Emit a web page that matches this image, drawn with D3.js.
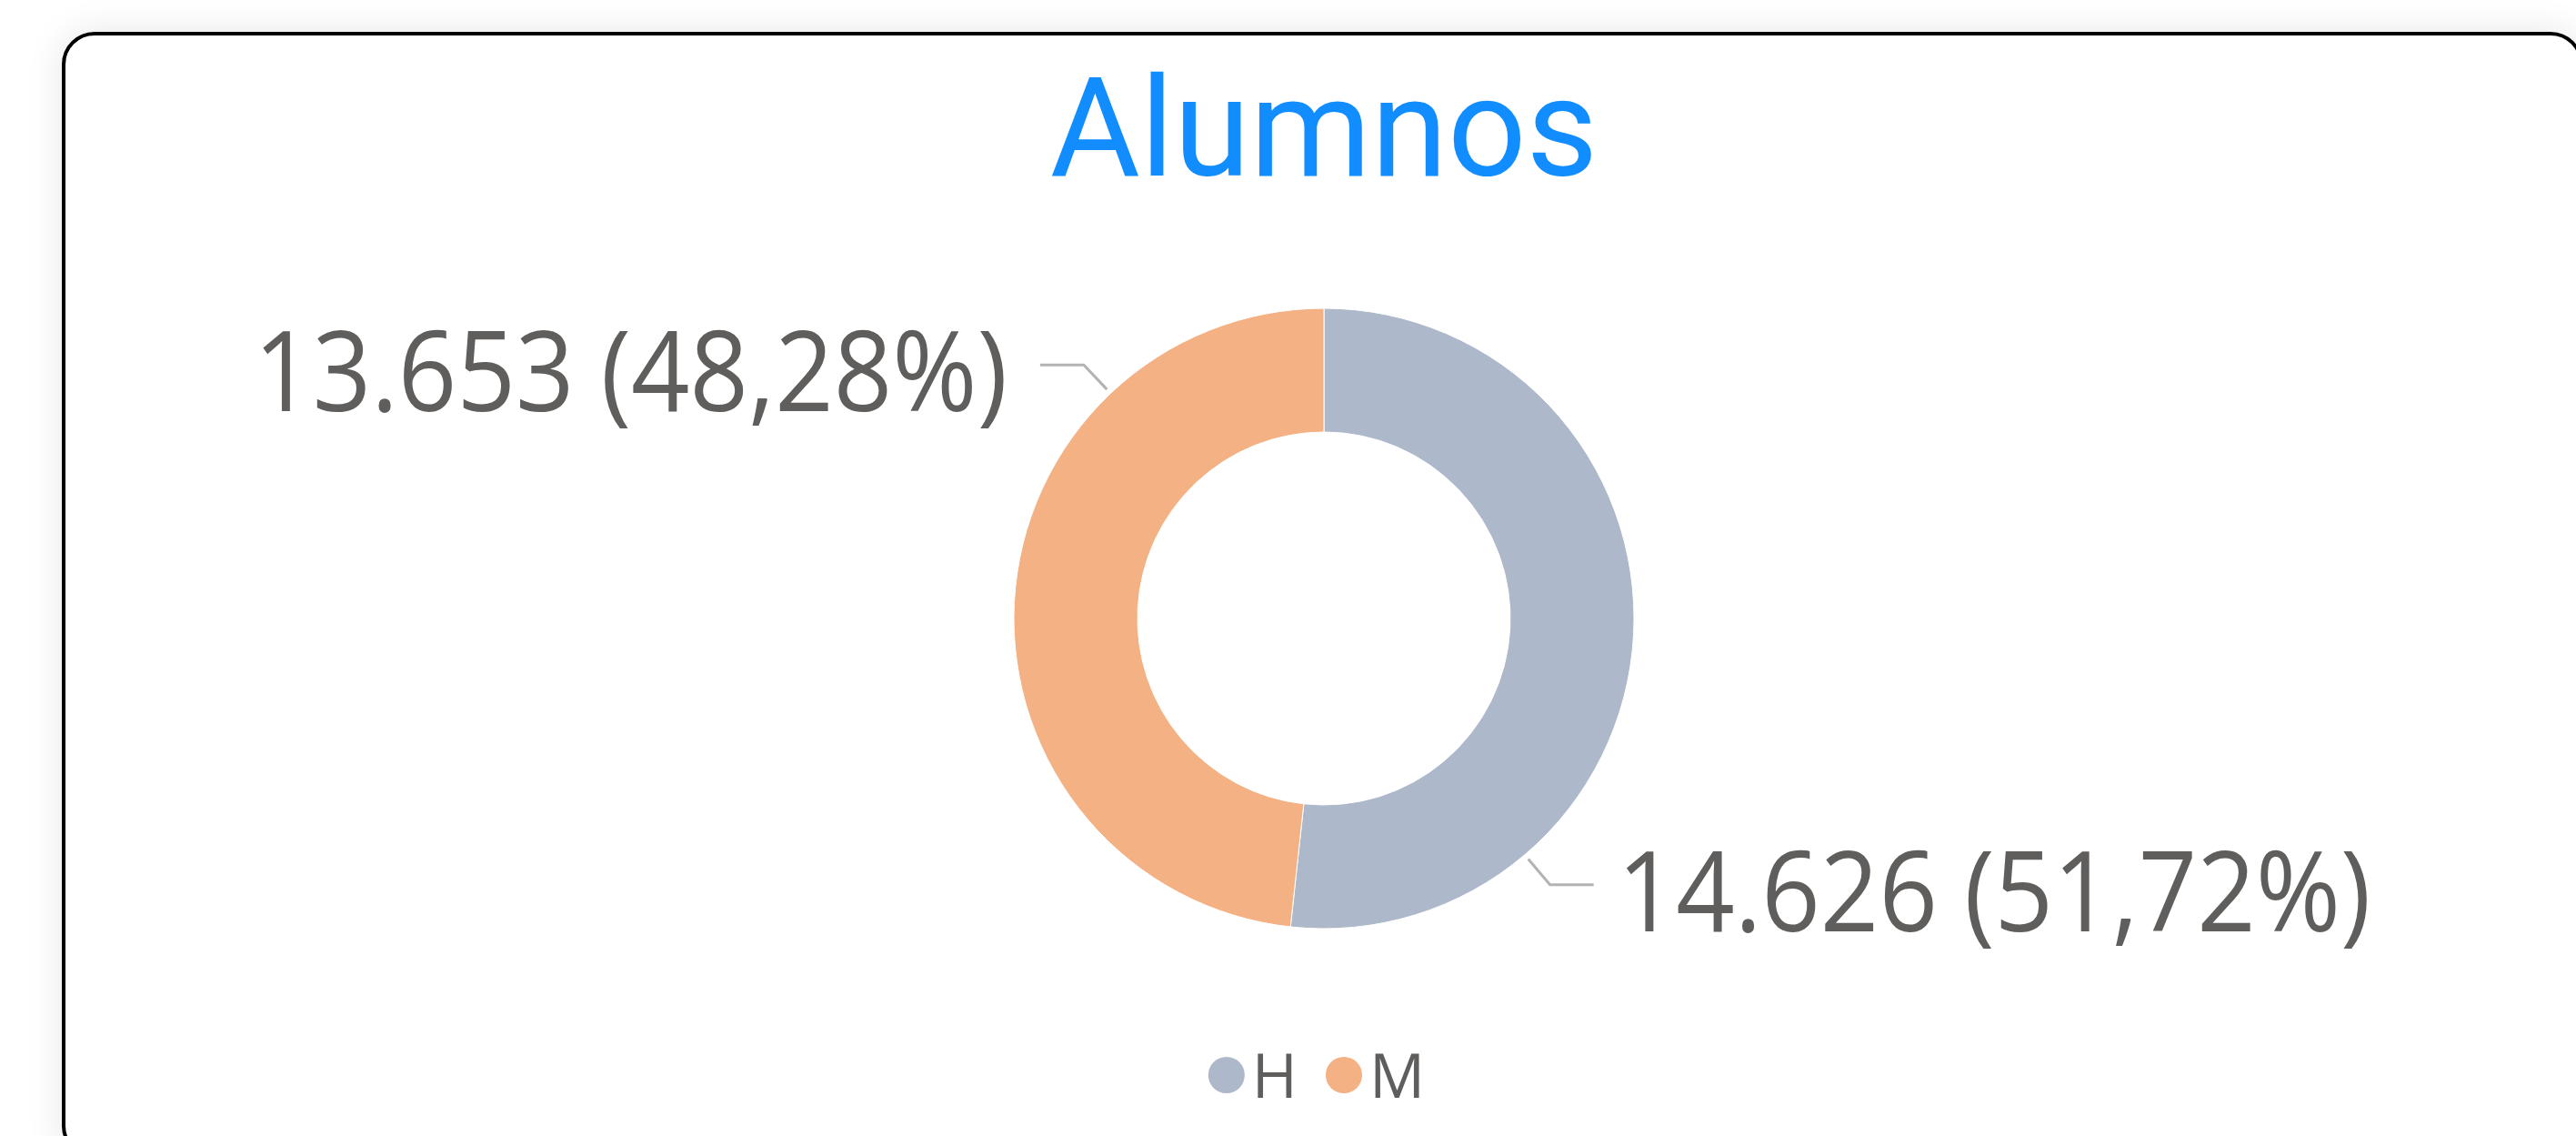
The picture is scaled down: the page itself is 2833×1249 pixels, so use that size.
<!DOCTYPE html>
<html>
<head>
<meta charset="UTF-8" />
<title>Alumnos</title>
<script src="https://cdn.jsdelivr.net/npm/d3@7"></script>
<style>
html, body {
	margin: 0;
	padding: 0;
	width: 2833px;
	height: 1249px;
	overflow: hidden;
	background: #fff;
}

.card {
	position: absolute;
	left: 68px;
	top: 35px;
	width: 2765px;
	height: 1231px;
	border: 4px solid #000;
	border-radius: 36px;
	box-shadow: 0 0 40px rgba(0, 0, 0, 0.10);
	background: #fff;
}

#chart {
	position: absolute;
	left: 0;
	top: 0;
}

.label, .legend text {
	font-family: "Open Sans", "Noto Sans", sans-serif;
	font-weight: 400;
	fill: #605E5C;
}
</style>
</head>
<body>
<div class="card"></div>
<svg id="chart" width="2833" height="1249"></svg>
<script>
// data
var categories = ['H', 'M'];
var values = [14626, 13653];
var colors = ['#ADB9CA', '#F4B183'];
var title = 'Alumnos';

var width = 2833;
var height = 1249;
var cx = 1456;
var cy = 680;
var outerR = 341;
var innerR = 205;

var locale = d3.formatLocale({decimal: ',', thousands: '.', grouping: [3], currency: ['', '€']});
var fmtNum = locale.format(',d');
var fmtPct = locale.format('.2%');

var svg = d3.select('#chart');

// title
svg.append('text')
    .attr('x', cx)
    .attr('y', 193)
    .attr('text-anchor', 'middle')
    .style('font-family', 'Roboto, sans-serif')
    .style('font-size', '152px')
    .style('fill', '#118DFF')
    .text(title);

var dataset = categories.map(function(c, i) {
    return {label: c, count: values[i], color: colors[i]};
});
var total = d3.sum(values);

var pie = d3.pie()
    .value(function(d) { return d.count; })
    .sort(null);

var arc = d3.arc()
    .innerRadius(innerR)
    .outerRadius(outerR);

var g = svg.append('g')
    .attr('transform', 'translate(' + cx + ',' + cy + ')');

var arcs = pie(dataset);

g.selectAll('path')
    .data(arcs)
    .enter()
    .append('path')
    .attr('d', arc)
    .attr('fill', function(d) { return d.data.color; })
    .attr('stroke', '#fff')
    .attr('stroke-width', 1);

// leader lines + labels
function pt(a, r) {
    return [Math.sin(a) * r, -Math.cos(a) * r];
}

arcs.forEach(function(d) {
    var a = d.startAngle + 0.75 * (d.endAngle - d.startAngle);
    var side = Math.sin(a) > 0 ? 1 : -1;
    var p0 = pt(a, outerR + 6);
    var p1 = pt(a, outerR + 43);
    var p2 = [p1[0] + side * 48, p1[1]];

    g.append('polyline')
        .attr('points', [p0, p1, p2].map(function(p) { return p.join(','); }).join(' '))
        .attr('fill', 'none')
        .attr('stroke', '#B3B3B3')
        .attr('stroke-width', 3);

    var t = g.append('text')
        .attr('class', 'label')
        .attr('x', p2[0] + side * (side > 0 ? 26 : 36))
        .attr('y', p2[1] + 51)
        .attr('text-anchor', side > 0 ? 'start' : 'end')
        .style('font-size', '122px')
        .text(fmtNum(d.data.count) + ' (' + fmtPct(d.data.count / total) + ')');
    // segoe-ish narrower digits
    var w = t.node().getComputedTextLength();
    t.attr('textLength', w * 0.925).attr('lengthAdjust', 'spacingAndGlyphs');
});

// legend
var legend = svg.append('g').attr('class', 'legend');
var dotR = 20;
var x = 0;
dataset.forEach(function(d) {
    var item = legend.append('g').attr('transform', 'translate(' + x + ',0)');
    item.append('circle')
        .attr('cx', dotR)
        .attr('cy', 0)
        .attr('r', dotR)
        .attr('fill', d.color);
    var t = item.append('text')
        .attr('x', dotR * 2 + 8)
        .attr('y', 25)
        .style('font-size', '68px')
        .text(d.label);
    x += dotR * 2 + 8 + t.node().getComputedTextLength() + 31;
});
x -= 31;
legend.attr('transform', 'translate(' + (cx - 8 - x / 2) + ',1182)');
</script>
</body>
</html>
